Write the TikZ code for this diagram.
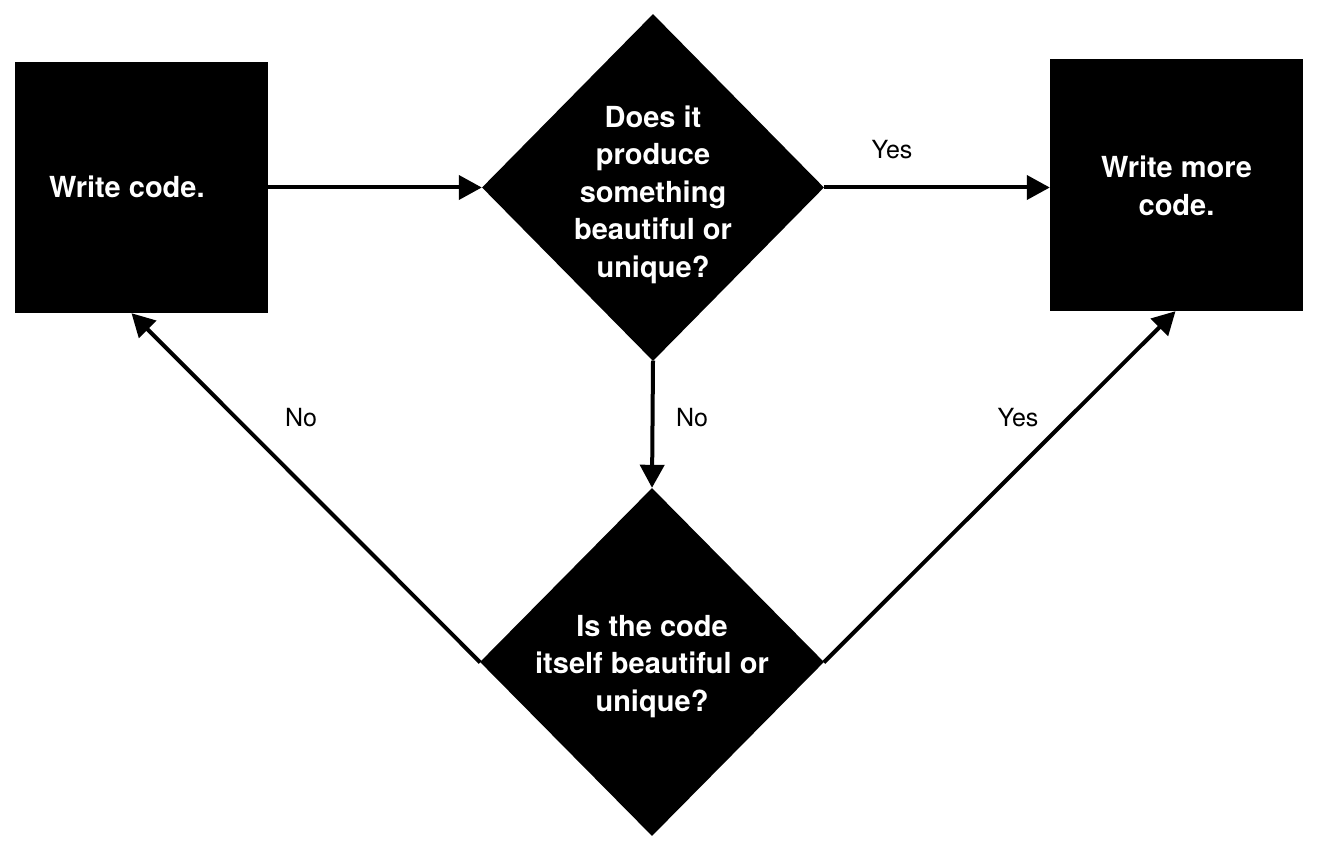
\documentclass[tikz,border=0pt]{standalone}
\usepackage{fontspec}
\setmainfont{TeX Gyre Heros}
\usetikzlibrary{shapes.geometric,arrows.meta}
\begin{document}
\begin{tikzpicture}[x=1pt,y=-1pt,
  boxnode/.style={rectangle,fill=black,draw=none,inner sep=0pt,minimum width=253pt,minimum height=251pt},
  dianode/.style={diamond,fill=black,draw=none,inner sep=0pt},
  btext/.style={text=white,font=\bfseries\fontsize{29}{37.5}\selectfont,align=center,inner sep=0pt},
  lbl/.style={font=\fontsize{25}{30}\selectfont,inner sep=0pt},
  conn/.style={line width=4pt,-{Triangle[length=23pt,width=24pt]},shorten <=-0.5pt}
]
\useasboundingbox (0,0) rectangle (1324,850);
\node[boxnode] (box1) at (141.5,187.5) {};
\node[boxnode,minimum height=252pt] (box2) at (1176.5,185) {};
\node[dianode,minimum width=342pt,minimum height=347pt] (d1) at (653,187.5) {};
\node[dianode,minimum width=344pt,minimum height=348pt] (d2) at (652,662) {};
\node[btext,anchor=base west] (t1) at (49,198) {Write code.};
\node[btext] (t2) at (1176.5,186) {Write more\\code.};
\node[btext] (t3) at (653,194.5) {Does it\\produce\\something\\beautiful or\\unique?};
\node[btext] (t4) at (652,666.5) {Is the code\\itself beautiful or\\unique?};
\draw[conn] (box1.east) -- (d1.west);
\draw[conn] (d1.east) -- (d1.east -| box2.west);
\draw[conn] (d1.south) -- (d2.north);
\draw[conn] (d2.west) -- ([xshift=-10pt]box1.south);
\draw[conn] (d2.east) -- ([xshift=-1pt]box2.south);
\node[lbl] (l1) at (892,150) {Yes};
\node[lbl] (l2) at (692,418) {No};
\node[lbl] (l3) at (301,418) {No};
\node[lbl] (l4) at (1018,418) {Yes};
\end{tikzpicture}
\end{document}
